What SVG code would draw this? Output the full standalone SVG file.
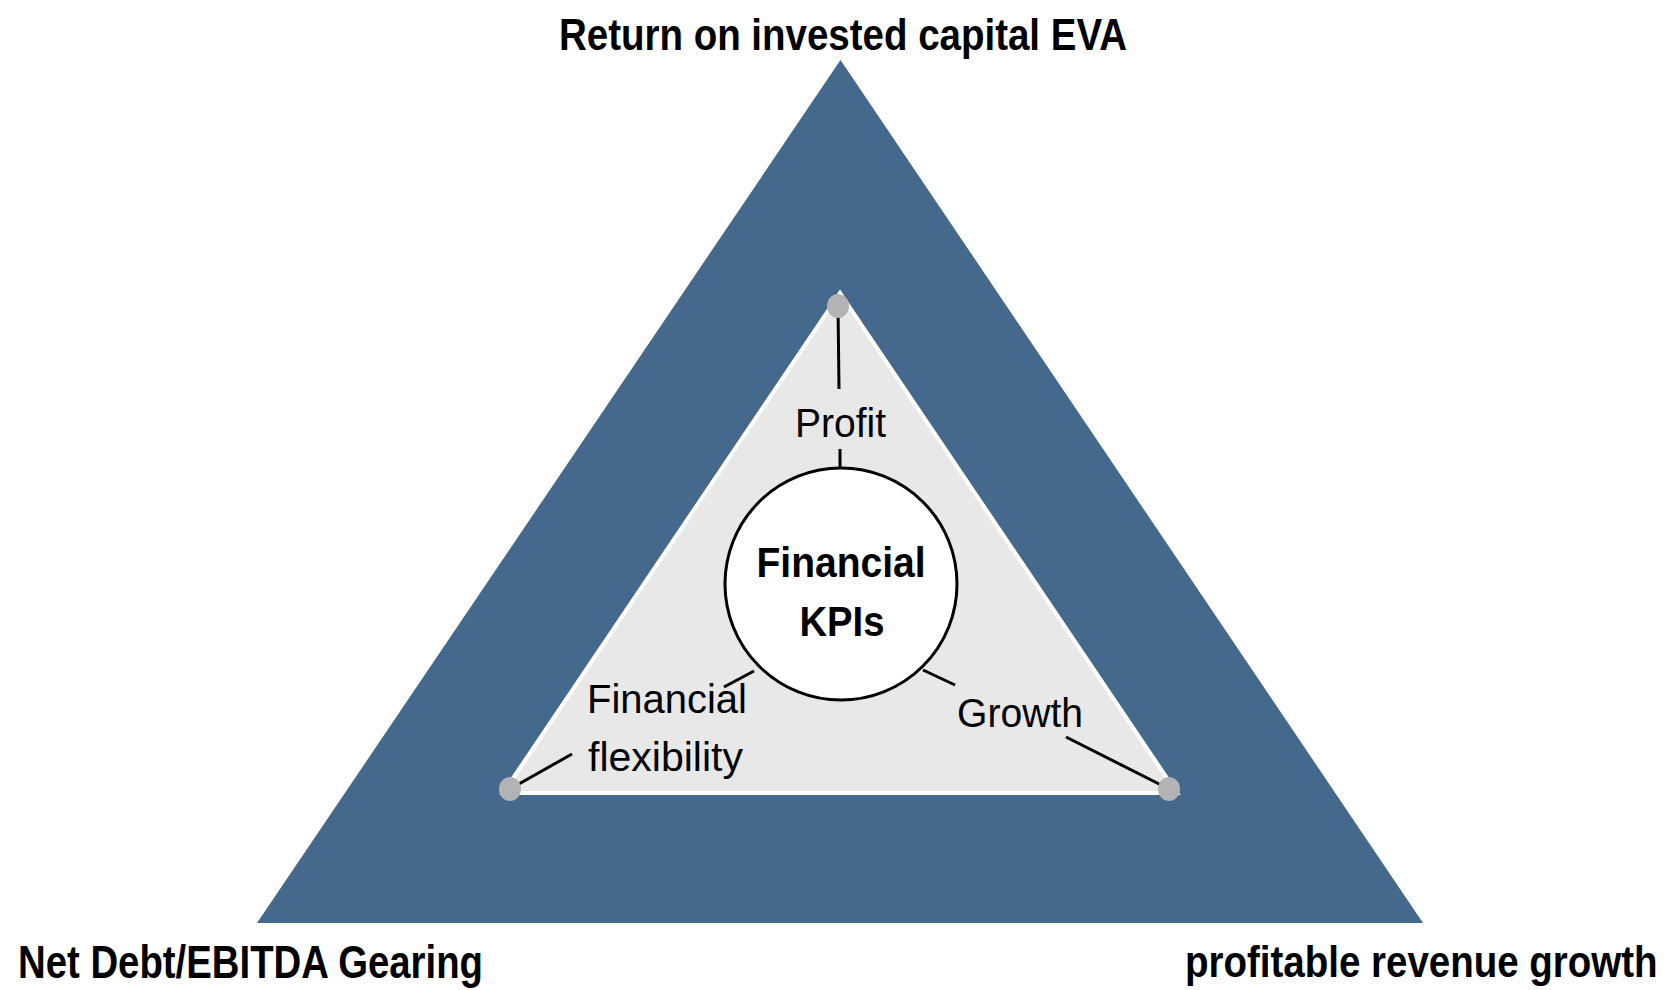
<svg xmlns="http://www.w3.org/2000/svg" width="1677" height="990" viewBox="0 0 1677 990">
<style>
.title{font-family:"Liberation Sans",Arial,sans-serif;font-weight:bold;fill:#000}
.lbl{font-family:"Liberation Sans",Arial,sans-serif;fill:#000;font-size:41px}
.ctr{font-family:"Liberation Sans",Arial,sans-serif;font-weight:bold;fill:#000;font-size:42px}
.conn line{stroke:#000;stroke-width:3}
.dot{fill:#B3B3B3}
</style>
<rect width="1677" height="990" fill="#fff"/>
<g id="outer-triangle">
<polygon points="840.5,60 257,923 1423,923" fill="#44698D"/>
</g>
<g id="inner-triangle">
<polygon points="840,293 503,793 1177,793" fill="#E8E8E8" stroke="#fff" stroke-width="4" stroke-linejoin="miter"/>
</g>
<g class="conn" id="connectors">
<line x1="838" y1="306" x2="839" y2="389"/>
<line x1="840" y1="449" x2="840" y2="469"/>
<line x1="510" y1="789" x2="572" y2="754"/>
<line x1="754" y1="671" x2="724" y2="687"/>
<line x1="923" y1="670" x2="955" y2="685"/>
<line x1="1066" y1="737" x2="1169" y2="789"/>
</g>
<g id="dots">
<ellipse class="dot" cx="838" cy="306" rx="11" ry="12"/>
<ellipse class="dot" cx="510" cy="789" rx="11" ry="12"/>
<ellipse class="dot" cx="1169" cy="789" rx="11" ry="12"/>
</g>
<g id="center">
<circle cx="841" cy="584" r="116" fill="#fff" stroke="#000" stroke-width="3"/>
<text class="ctr" x="841" y="577" text-anchor="middle" textLength="169" lengthAdjust="spacingAndGlyphs">Financial</text>
<text class="ctr" x="842" y="636" text-anchor="middle" textLength="85" lengthAdjust="spacingAndGlyphs">KPIs</text>
</g>
<g id="profit">
<text class="lbl" x="795" y="437" textLength="91" lengthAdjust="spacingAndGlyphs">Profit</text>
</g>
<g id="flexibility">
<text class="lbl" x="587" y="713" textLength="160" lengthAdjust="spacingAndGlyphs">Financial</text>
<text class="lbl" x="588" y="771" textLength="155" lengthAdjust="spacingAndGlyphs">flexibility</text>
</g>
<g id="growth">
<text class="lbl" x="957" y="727" textLength="126" lengthAdjust="spacingAndGlyphs">Growth</text>
</g>
<g id="top-label">
<text class="title" x="559" y="50" font-size="45" textLength="568" lengthAdjust="spacingAndGlyphs">Return on invested capital EVA</text>
</g>
<g id="left-label">
<text class="title" x="18" y="978" font-size="47" textLength="465" lengthAdjust="spacingAndGlyphs">Net Debt/EBITDA Gearing</text>
</g>
<g id="right-label" transform="translate(1185,977) scale(0.875,1)">
<text class="title" x="0" y="0" font-size="44">profitable revenue growth</text>
</g>
</svg>
